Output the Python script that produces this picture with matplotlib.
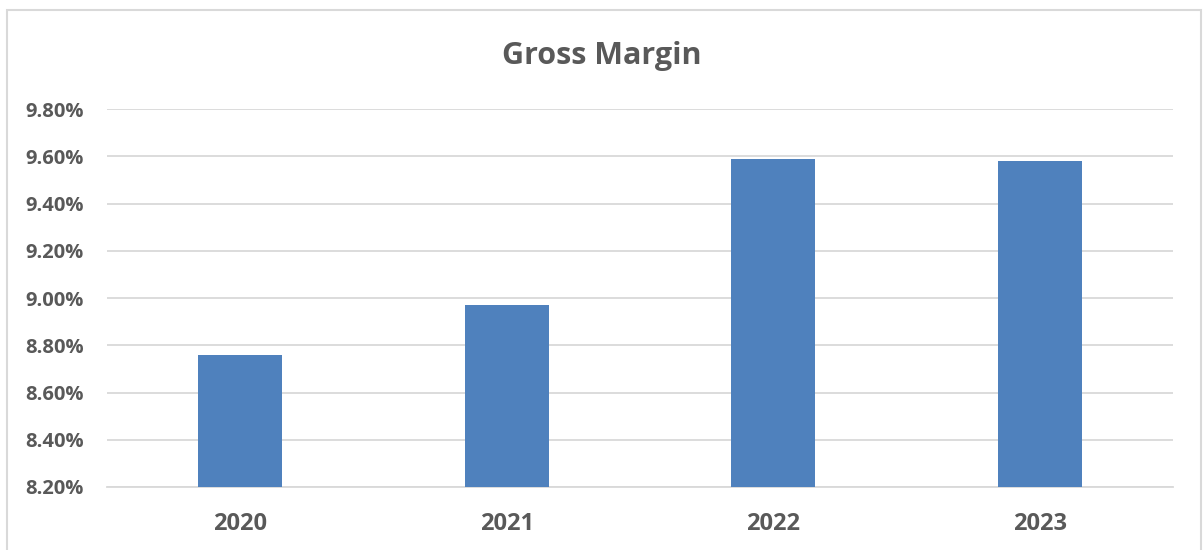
import numpy as np
import matplotlib.pyplot as plt
from matplotlib.patches import Rectangle
from matplotlib.ticker import FuncFormatter

years = ['2020', '2021', '2022', '2023']
gross_margin = [8.76, 8.97, 9.59, 9.58]  # percent

plt.rcParams['font.family'] = ['Open Sans', 'DejaVu Sans']

fig = plt.figure(figsize=(12.03, 5.5), dpi=100)
ax = fig.add_axes([107/1203, 63/550, 1066/1203, 378/550])

x = np.arange(len(years))
ax.bar(x, gross_margin, width=0.315, color='#4f81bd', zorder=3)

ax.set_xlim(-0.5, len(years) - 0.5)
ax.set_ylim(8.2, 9.8)
ax.set_yticks(np.arange(8.2, 9.81, 0.2))
ax.yaxis.set_major_formatter(FuncFormatter(lambda v, p: f'{v:.2f}%'))
ax.set_xticks(x)
ax.set_xticklabels(years)

ax.grid(axis='y', color='#d9d9d9', linewidth=1.3, zorder=0)
for s in ['top', 'right', 'left']:
    ax.spines[s].set_visible(False)
ax.spines['bottom'].set_color('#d9d9d9')
ax.spines['bottom'].set_linewidth(1.3)
ax.tick_params(axis='both', length=0, colors='#595959')
ax.tick_params(axis='y', pad=17)
ax.tick_params(axis='x', pad=18)
for lbl in ax.get_yticklabels():
    lbl.set_fontsize(14.5)
    lbl.set_fontweight('bold')
for lbl in ax.get_xticklabels():
    lbl.set_fontsize(17)
    lbl.set_fontweight('bold')

fig.text(0.5, 1 - 56/550, 'Gross Margin', ha='center', va='center',
         fontsize=22, fontweight='bold', color='#595959')

# chart border
fig.patches.append(Rectangle((7/1203, -0.05), 1194/1203, 1.05 - 10/550,
                             transform=fig.transFigure, fill=False,
                             edgecolor='#d9d9d9', linewidth=1.5))

fig.savefig('out.png', dpi=100, facecolor='white')
